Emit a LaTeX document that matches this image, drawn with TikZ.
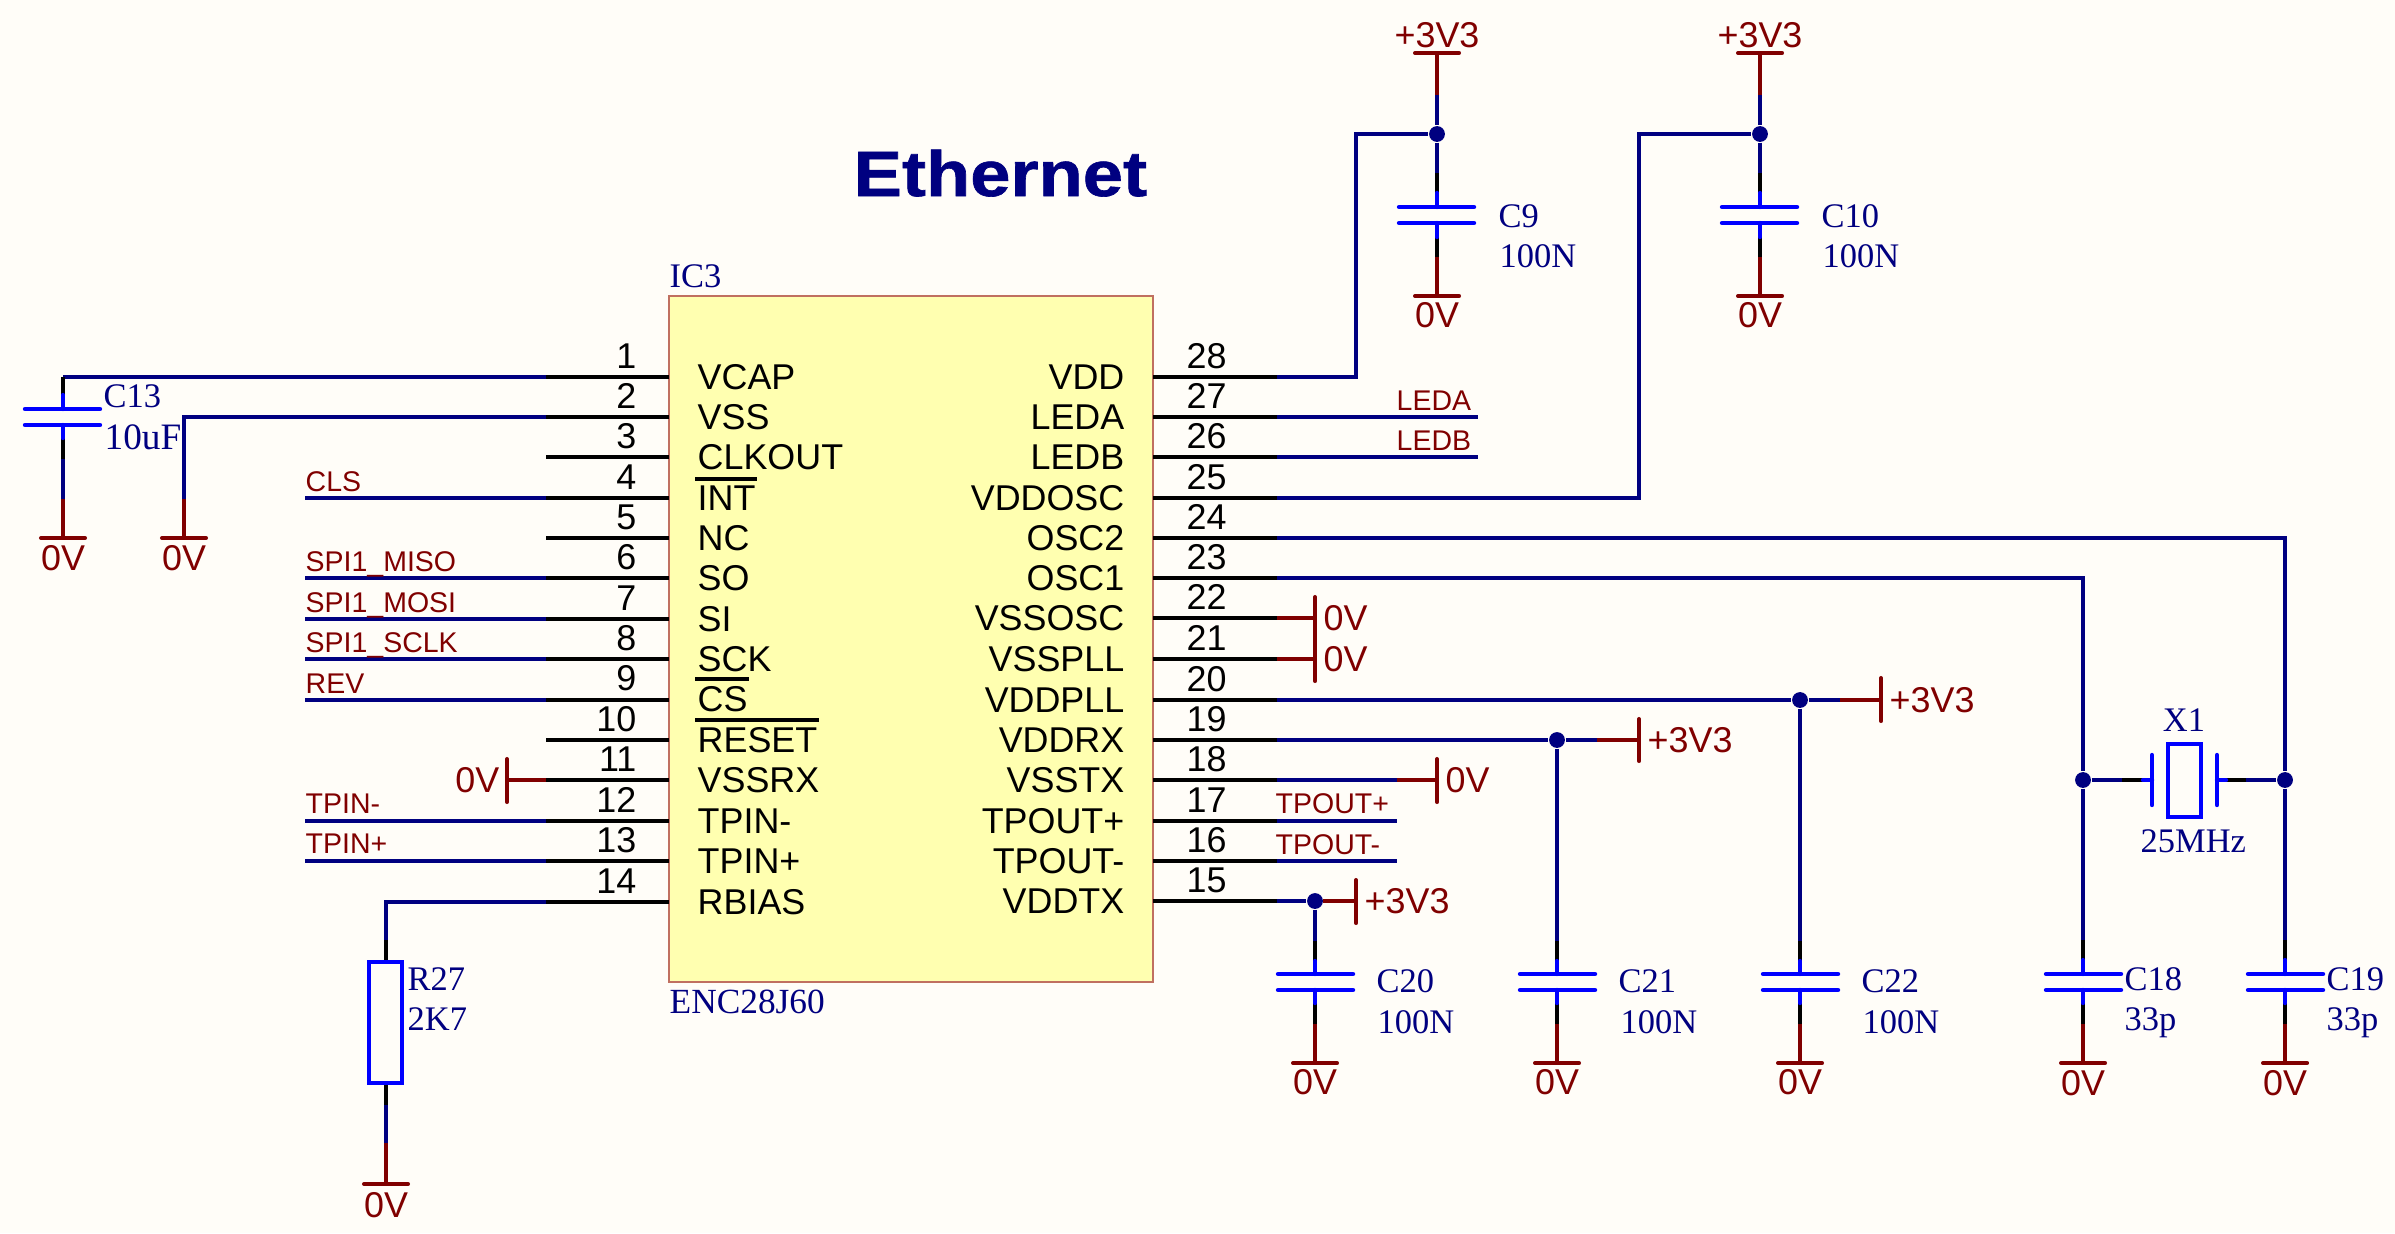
\documentclass[tikz,border=0pt]{standalone}
\usepackage{xcolor}
\usepackage{fontspec}
\usepackage{tikz}
\setmainfont{Liberation Sans}
\newfontfamily\serfont{Liberation Serif}
\newfontfamily\headfont[FakeStretch=1.13,FakeBold=1]{Liberation Sans}
\definecolor{bgcol}{HTML}{FFFDF8}
\definecolor{wirecol}{HTML}{000080}
\definecolor{pwrcol}{HTML}{800000}
\definecolor{partcol}{HTML}{0000FF}
\definecolor{icfill}{HTML}{FFFFB0}
\definecolor{icline}{HTML}{C07060}
\tikzset{
    wire/.style={draw=wirecol,line width=1.1pt},
    pinline/.style={draw=black,line width=1.15pt},
    pwrline/.style={draw=pwrcol,line width=1.1pt},
    pwrbar/.style={draw=pwrcol,line width=1.15pt,line cap=round},
    partline/.style={draw=partcol,line width=1.25pt,line cap=round},
    overbar/.style={draw=black,line width=1.1pt},
    junction/.style={circle,fill=wirecol,inner sep=0pt,minimum size=4.5pt},
    pinname/.style={inner sep=0pt,font=\fontsize{10.2}{12}\selectfont},
    pinnum/.style={inner sep=0pt,font=\fontsize{10.2}{12}\selectfont},
    netname/.style={inner sep=0pt,text=pwrcol,anchor=base west,font=\fontsize{8.1}{10}\selectfont},
    pwrname/.style={inner sep=0pt,text=pwrcol,font=\fontsize{10.2}{12}\selectfont},
    partname/.style={inner sep=0pt,text=wirecol,anchor=base west,font=\fontsize{9.8}{12}\serfont},
}
\begin{document}
\begin{tikzpicture}[x=0.01cm,y=-0.01cm]
        \fill[bgcol] (0,0) rectangle (2395,1233);
        \node[inner sep=0pt,text=wirecol,anchor=base west,font=\fontsize{18.2}{22}\headfont\bfseries] (title) at (853,196) {Ethernet};
        \draw[draw=icline,fill=icfill,line width=0.6pt] (669,296) rectangle (1153,982);
        \node[partname] (ic3) at (669,287) {IC3};
        \node[partname,font=\fontsize{10.05}{12}\serfont] (enc) at (669,1013) {ENC28J60};

        \node[pinnum,anchor=base east] (num1) at (637,368) {1};
        \node[pinnum,anchor=base east] (num2) at (637,408) {2};
        \node[pinnum,anchor=base east] (num3) at (637,448) {3};
        \node[pinnum,anchor=base east] (num4) at (637,489) {4};
        \node[pinnum,anchor=base east] (num5) at (637,529) {5};
        \node[pinnum,anchor=base east] (num6) at (637,569) {6};
        \node[pinnum,anchor=base east] (num7) at (637,610) {7};
        \node[pinnum,anchor=base east] (num8) at (637,650) {8};
        \node[pinnum,anchor=base east] (num9) at (637,690) {9};
        \node[pinnum,anchor=base east] (num10) at (637,731) {10};
        \node[pinnum,anchor=base east] (num11) at (637,771) {11};
        \node[pinnum,anchor=base east] (num12) at (637,812) {12};
        \node[pinnum,anchor=base east] (num13) at (637,852) {13};
        \node[pinnum,anchor=base east] (num14) at (637,893) {14};
        \node[pinnum,anchor=base west] (num28) at (1186,368) {28};
        \node[pinnum,anchor=base west] (num27) at (1186,408) {27};
        \node[pinnum,anchor=base west] (num26) at (1186,448) {26};
        \node[pinnum,anchor=base west] (num25) at (1186,489) {25};
        \node[pinnum,anchor=base west] (num24) at (1186,529) {24};
        \node[pinnum,anchor=base west] (num23) at (1186,569) {23};
        \node[pinnum,anchor=base west] (num22) at (1186,609) {22};
        \node[pinnum,anchor=base west] (num21) at (1186,650) {21};
        \node[pinnum,anchor=base west] (num20) at (1186,691) {20};
        \node[pinnum,anchor=base west] (num19) at (1186,731) {19};
        \node[pinnum,anchor=base west] (num18) at (1186,771) {18};
        \node[pinnum,anchor=base west] (num17) at (1186,812) {17};
        \node[pinnum,anchor=base west] (num16) at (1186,852) {16};
        \node[pinnum,anchor=base west] (num15) at (1186,892) {15};

        \node[pinname,anchor=base west] (name1) at (697,389) {VCAP};
        \node[pinname,anchor=base west] (name2) at (697,429) {VSS};
        \node[pinname,anchor=base west] (name3) at (697,469) {CLKOUT};
        \node[pinname,anchor=base west] (name4) at (697,510) {INT};
        \node[pinname,anchor=base west] (name5) at (697,550) {NC};
        \node[pinname,anchor=base west] (name6) at (697,590) {SO};
        \node[pinname,anchor=base west] (name7) at (697,631) {SI};
        \node[pinname,anchor=base west] (name8) at (697,671) {SCK};
        \node[pinname,anchor=base west] (name9) at (697,711) {CS};
        \node[pinname,anchor=base west] (name10) at (697,752) {RESET};
        \node[pinname,anchor=base west] (name11) at (697,792) {VSSRX};
        \node[pinname,anchor=base west] (name12) at (697,833) {TPIN-};
        \node[pinname,anchor=base west] (name13) at (697,873) {TPIN+};
        \node[pinname,anchor=base west] (name14) at (697,914) {RBIAS};
        \node[pinname,anchor=base east] (name28) at (1125,389) {VDD};
        \node[pinname,anchor=base east] (name27) at (1125,429) {LEDA};
        \node[pinname,anchor=base east] (name26) at (1125,469) {LEDB};
        \node[pinname,anchor=base east] (name25) at (1125,510) {VDDOSC};
        \node[pinname,anchor=base east] (name24) at (1125,550) {OSC2};
        \node[pinname,anchor=base east] (name23) at (1125,590) {OSC1};
        \node[pinname,anchor=base east] (name22) at (1125,630) {VSSOSC};
        \node[pinname,anchor=base east] (name21) at (1125,671) {VSSPLL};
        \node[pinname,anchor=base east] (name20) at (1125,712) {VDDPLL};
        \node[pinname,anchor=base east] (name19) at (1125,752) {VDDRX};
        \node[pinname,anchor=base east] (name18) at (1125,792) {VSSTX};
        \node[pinname,anchor=base east] (name17) at (1125,833) {TPOUT+};
        \node[pinname,anchor=base east] (name16) at (1125,873) {TPOUT-};
        \node[pinname,anchor=base east] (name15) at (1125,913) {VDDTX};
        \draw[overbar] ([shift={(-2,-6)}]name4.north west) -- ([shift={(1,-6)}]name4.north east);
        \draw[overbar] ([shift={(-2,-6)}]name9.north west) -- ([shift={(1,-6)}]name9.north east);
        \draw[overbar] ([shift={(-2,-6)}]name10.north west) -- ([shift={(1,-6)}]name10.north east);

        \coordinate (a1) at (669,377); \coordinate (b1) at (546,377);
        \coordinate (a2) at (669,417); \coordinate (b2) at (546,417);
        \coordinate (a3) at (669,457); \coordinate (b3) at (546,457);
        \coordinate (a4) at (669,498); \coordinate (b4) at (546,498);
        \coordinate (a5) at (669,538); \coordinate (b5) at (546,538);
        \coordinate (a6) at (669,578); \coordinate (b6) at (546,578);
        \coordinate (a7) at (669,619); \coordinate (b7) at (546,619);
        \coordinate (a8) at (669,659); \coordinate (b8) at (546,659);
        \coordinate (a9) at (669,700); \coordinate (b9) at (546,700);
        \coordinate (a10) at (669,740); \coordinate (b10) at (546,740);
        \coordinate (a11) at (669,780); \coordinate (b11) at (546,780);
        \coordinate (a12) at (669,821); \coordinate (b12) at (546,821);
        \coordinate (a13) at (669,861); \coordinate (b13) at (546,861);
        \coordinate (a14) at (669,902); \coordinate (b14) at (546,902);
        \coordinate (a28) at (1153,377); \coordinate (b28) at (1277,377);
        \coordinate (a27) at (1153,417); \coordinate (b27) at (1277,417);
        \coordinate (a26) at (1153,457); \coordinate (b26) at (1277,457);
        \coordinate (a25) at (1153,498); \coordinate (b25) at (1277,498);
        \coordinate (a24) at (1153,538); \coordinate (b24) at (1277,538);
        \coordinate (a23) at (1153,578); \coordinate (b23) at (1277,578);
        \coordinate (a22) at (1153,618); \coordinate (b22) at (1277,618);
        \coordinate (a21) at (1153,659); \coordinate (b21) at (1277,659);
        \coordinate (a20) at (1153,700); \coordinate (b20) at (1277,700);
        \coordinate (a19) at (1153,740); \coordinate (b19) at (1277,740);
        \coordinate (a18) at (1153,780); \coordinate (b18) at (1277,780);
        \coordinate (a17) at (1153,821); \coordinate (b17) at (1277,821);
        \coordinate (a16) at (1153,861); \coordinate (b16) at (1277,861);
        \coordinate (a15) at (1153,901); \coordinate (b15) at (1277,901);

        \node[junction] (jc9) at (1437,134) {};
        \node[junction] (jc10) at (1760,134) {};
        \node[junction] (j20) at (1800,700) {};
        \node[junction] (j19) at (1557,740) {};
        \node[junction] (j15) at (1315,901) {};
        \node[junction] (jx1) at (2083,780) {};
        \node[junction] (jx2) at (2285,780) {};

        \coordinate (c13t) at (63,377); \coordinate (c13b) at (63,459);
        \coordinate (c9t) at (1437,173); \coordinate (c9b) at (1437,257);
        \coordinate (c10t) at (1760,173); \coordinate (c10b) at (1760,257);
        \coordinate (c20t) at (1315,941); \coordinate (c20b) at (1315,1024);
        \coordinate (c21t) at (1557,941); \coordinate (c21b) at (1557,1024);
        \coordinate (c22t) at (1800,941); \coordinate (c22b) at (1800,1024);
        \coordinate (c18t) at (2083,940); \coordinate (c18b) at (2083,1024);
        \coordinate (c19t) at (2285,940); \coordinate (c19b) at (2285,1024);
        \coordinate (r27t) at (386,940); \coordinate (r27b) at (386,1105);
        \coordinate (x1l) at (2122,780); \coordinate (x1r) at (2246,780);
        \coordinate (k2) at (184,499);
        \coordinate (k28) at (1356,134);
        \coordinate (k25) at (1639,134);

        \coordinate (e4) at (305,498);
        \coordinate (e6) at (305,578);
        \coordinate (e7) at (305,619);
        \coordinate (e8) at (305,659);
        \coordinate (e9) at (305,700);
        \coordinate (e12) at (305,821);
        \coordinate (e13) at (305,861);
        \coordinate (e27) at (1478,417);
        \coordinate (e26) at (1478,457);
        \coordinate (e17) at (1397,821);
        \coordinate (e16) at (1397,861);

        \coordinate (p20) at (1840,700); \coordinate (pb20) at (1881,700);
        \coordinate (p19) at (1597,740); \coordinate (pb19) at (1639,740);
        \coordinate (p18) at (1397,780); \coordinate (pb18) at (1437,780);
        \coordinate (p15) at (1323,901); \coordinate (pb15) at (1356,901);
        \coordinate (pb22) at (1315,618); \coordinate (pb21) at (1315,659);
        \coordinate (pb11) at (507,780);
        \coordinate (vc9) at (1437,95); \coordinate (tc9) at (1437,53);
        \coordinate (vc10) at (1760,95); \coordinate (tc10) at (1760,53);
        \coordinate (gc13) at (63,538); \coordinate (g2) at (184,538);
        \coordinate (gc9) at (1437,296); \coordinate (gc10) at (1760,296);
        \coordinate (gc20) at (1315,1063); \coordinate (gc21) at (1557,1063);
        \coordinate (gc22) at (1800,1063); \coordinate (gc18) at (2083,1063);
        \coordinate (gc19) at (2285,1063); \coordinate (gr27) at (386,1184);
        \coordinate (vr27) at (386,1143); \coordinate (vc13) at (63,499);

        \draw[wire] (b1) -- (c13t);
        \draw[wire] (b2) -| (k2);
        \draw[wire] (b4) -- (e4);
        \draw[wire] (b6) -- (e6);
        \draw[wire] (b7) -- (e7);
        \draw[wire] (b8) -- (e8);
        \draw[wire] (b9) -- (e9);
        \draw[wire] (b12) -- (e12);
        \draw[wire] (b13) -- (e13);
        \draw[wire] (b14) -| (r27t);
        \draw[wire] (c13b) -- (vc13);
        \draw[wire] (r27b) -- (vr27);
        \draw[wire] (b27) -- (e27);
        \draw[wire] (b26) -- (e26);
        \draw[wire] (b17) -- (e17);
        \draw[wire] (b16) -- (e16);
        \draw[wire] (b18) -- (p18);
        \draw[wire] (b28) -| (k28) -- (jc9);
        \draw[wire] (b25) -| (k25) -- (jc10);
        \draw[wire] (b24) -| (jx2);
        \draw[wire] (b23) -| (jx1);
        \draw[wire] (b20) -- (j20);
        \draw[wire] (j20) -- (p20);
        \draw[wire] (b19) -- (j19);
        \draw[wire] (j19) -- (p19);
        \draw[wire] (b15) -- (j15);
        \draw[wire] (j20) -- (c22t);
        \draw[wire] (j19) -- (c21t);
        \draw[wire] (j15) -- (c20t);
        \draw[wire] (vc9) -- (jc9);
        \draw[wire] (jc9) -- (c9t);
        \draw[wire] (vc10) -- (jc10);
        \draw[wire] (jc10) -- (c10t);
        \draw[wire] (jx1) -- (c18t);
        \draw[wire] (jx2) -- (c19t);
        \draw[wire] (jx1) -- (x1l);
        \draw[wire] (jx2) -- (x1r);

        \draw[pinline] (a1) -- (b1);
        \draw[pinline] (a2) -- (b2);
        \draw[pinline] (a3) -- (b3);
        \draw[pinline] (a4) -- (b4);
        \draw[pinline] (a5) -- (b5);
        \draw[pinline] (a6) -- (b6);
        \draw[pinline] (a7) -- (b7);
        \draw[pinline] (a8) -- (b8);
        \draw[pinline] (a9) -- (b9);
        \draw[pinline] (a10) -- (b10);
        \draw[pinline] (a11) -- (b11);
        \draw[pinline] (a12) -- (b12);
        \draw[pinline] (a13) -- (b13);
        \draw[pinline] (a14) -- (b14);
        \draw[pinline] (a28) -- (b28);
        \draw[pinline] (a27) -- (b27);
        \draw[pinline] (a26) -- (b26);
        \draw[pinline] (a25) -- (b25);
        \draw[pinline] (a24) -- (b24);
        \draw[pinline] (a23) -- (b23);
        \draw[pinline] (a22) -- (b22);
        \draw[pinline] (a21) -- (b21);
        \draw[pinline] (a20) -- (b20);
        \draw[pinline] (a19) -- (b19);
        \draw[pinline] (a18) -- (b18);
        \draw[pinline] (a17) -- (b17);
        \draw[pinline] (a16) -- (b16);
        \draw[pinline] (a15) -- (b15);

        \draw[pinline] (c13t) -- ++(0,18) (c13b) -- ++(0,-21);
        \draw[pinline] (c9t) -- ++(0,20) (c9b) -- ++(0,-20);
        \draw[pinline] (c10t) -- ++(0,20) (c10b) -- ++(0,-20);
        \draw[pinline] (c20t) -- ++(0,20) (c20b) -- ++(0,-21);
        \draw[pinline] (c21t) -- ++(0,20) (c21b) -- ++(0,-21);
        \draw[pinline] (c22t) -- ++(0,20) (c22b) -- ++(0,-21);
        \draw[pinline] (c18t) -- ++(0,20) (c18b) -- ++(0,-21);
        \draw[pinline] (c19t) -- ++(0,20) (c19b) -- ++(0,-21);
        \draw[pinline] (r27t) -- ++(0,22) (r27b) -- ++(0,-22);
        \draw[pinline] (x1l) -- ++(21,0) (x1r) -- ++(-20,0);

        \draw[partline] (63,395) -- (63,409) (25,409) -- (100,409) (25,425) -- (100,425) (63,425) -- (63,438);
        \draw[partline] (1437,193) -- (1437,207) (1399,207) -- (1474,207) (1399,223) -- (1474,223) (1437,223) -- (1437,237);
        \draw[partline] (1760,193) -- (1760,207) (1722,207) -- (1797,207) (1722,223) -- (1797,223) (1760,223) -- (1760,237);
        \draw[partline] (1315,961) -- (1315,974) (1278,974) -- (1353,974) (1278,990) -- (1353,990) (1315,990) -- (1315,1003);
        \draw[partline] (1557,961) -- (1557,974) (1520,974) -- (1595,974) (1520,990) -- (1595,990) (1557,990) -- (1557,1003);
        \draw[partline] (1800,961) -- (1800,974) (1763,974) -- (1838,974) (1763,990) -- (1838,990) (1800,990) -- (1800,1003);
        \draw[partline] (2083,960) -- (2083,974) (2046,974) -- (2121,974) (2046,990) -- (2121,990) (2083,990) -- (2083,1003);
        \draw[partline] (2285,960) -- (2285,974) (2248,974) -- (2323,974) (2248,990) -- (2323,990) (2285,990) -- (2285,1003);
        \draw[partline] (369,962) rectangle (402,1083);
        \draw[partline] (2143,780) -- (2152,780) (2152,755) -- (2152,805);
        \draw[partline] (2168,744) rectangle (2201,817);
        \draw[partline] (2226,780) -- (2217,780) (2217,755) -- (2217,805);

        \draw[pwrline] (vc13) -- (gc13);
        \draw[pwrline] (k2) -- (g2);
        \draw[pwrline] (vr27) -- (gr27);
        \draw[pwrline] (c9b) -- (gc9);
        \draw[pwrline] (c10b) -- (gc10);
        \draw[pwrline] (c20b) -- (gc20);
        \draw[pwrline] (c21b) -- (gc21);
        \draw[pwrline] (c22b) -- (gc22);
        \draw[pwrline] (c18b) -- (gc18);
        \draw[pwrline] (c19b) -- (gc19);
        \draw[pwrline] (vc9) -- (tc9);
        \draw[pwrline] (vc10) -- (tc10);
        \draw[pwrline] (b11) -- (pb11);
        \draw[pwrline] (b22) -- (pb22);
        \draw[pwrline] (b21) -- (pb21);
        \draw[pwrline] (p20) -- (pb20);
        \draw[pwrline] (p19) -- (pb19);
        \draw[pwrline] (p18) -- (pb18);
        \draw[pwrline] (p15) -- (pb15);

        \draw[pwrbar] (41,538) -- (85,538);
        \draw[pwrbar] (162,538) -- (206,538);
        \draw[pwrbar] (364,1184) -- (408,1184);
        \draw[pwrbar] (1415,296) -- (1459,296);
        \draw[pwrbar] (1738,296) -- (1782,296);
        \draw[pwrbar] (1415,53) -- (1459,53);
        \draw[pwrbar] (1738,53) -- (1782,53);
        \draw[pwrbar] (1293,1063) -- (1337,1063);
        \draw[pwrbar] (1535,1063) -- (1579,1063);
        \draw[pwrbar] (1778,1063) -- (1822,1063);
        \draw[pwrbar] (2061,1063) -- (2105,1063);
        \draw[pwrbar] (2263,1063) -- (2307,1063);
        \draw[pwrbar] (507,759) -- (507,802);
        \draw[pwrbar] (1315,597) -- (1315,681);
        \draw[pwrbar] (1881,678) -- (1881,721);
        \draw[pwrbar] (1639,719) -- (1639,761);
        \draw[pwrbar] (1437,759) -- (1437,802);
        \draw[pwrbar] (1356,880) -- (1356,923);

        \node[netname] (cls) at (305,491) {CLS};
        \node[netname] (miso) at (305,571) {SPI1\_MISO};
        \node[netname] (mosi) at (305,612) {SPI1\_MOSI};
        \node[netname] (sclk) at (305,652) {SPI1\_SCLK};
        \node[netname] (rev) at (305,693) {REV};
        \node[netname] (tpinm) at (305,813) {TPIN-};
        \node[netname] (tpinp) at (305,853) {TPIN+};
        \node[netname] (leda) at (1396,410) {LEDA};
        \node[netname] (ledb) at (1396,450) {LEDB};
        \node[netname] (tpoutp) at (1275,813) {TPOUT+};
        \node[netname] (tpoutm) at (1275,854) {TPOUT-};

        \node[pwrname] (v3a) at (1437,35) {+3V3};
        \node[pwrname] (v3b) at (1760,35) {+3V3};
        \node[pwrname,anchor=west] (v3c) at (1889,700) {+3V3};
        \node[pwrname,anchor=west] (v3d) at (1647,740) {+3V3};
        \node[pwrname,anchor=west] (v3e) at (1364,901) {+3V3};
        \node[pwrname] (gnd13) at (63,558) {0V};
        \node[pwrname] (gnd2) at (184,558) {0V};
        \node[pwrname] (gndr) at (386,1205) {0V};
        \node[pwrname] (gnd9) at (1437,315) {0V};
        \node[pwrname] (gnd10) at (1760,315) {0V};
        \node[pwrname] (gnd20) at (1315,1082) {0V};
        \node[pwrname] (gnd21) at (1557,1082) {0V};
        \node[pwrname] (gnd22) at (1800,1082) {0V};
        \node[pwrname] (gnd18) at (2083,1083) {0V};
        \node[pwrname] (gnd19) at (2285,1083) {0V};
        \node[pwrname,anchor=east] (gnd11) at (500,780) {0V};
        \node[pwrname,anchor=west] (gnd22b) at (1323,618) {0V};
        \node[pwrname,anchor=west] (gnd21b) at (1323,659) {0V};
        \node[pwrname,anchor=west] (gnd18b) at (1445,780) {0V};

        \node[partname] (c13) at (103,407) {C13};
        \node[partname,font=\fontsize{10.6}{12}\serfont] (c13v) at (104,449) {10uF};
        \node[partname] (c9) at (1498,227) {C9};
        \node[partname] (c9v) at (1499,267) {100N};
        \node[partname] (c10) at (1821,227) {C10};
        \node[partname] (c10v) at (1822,267) {100N};
        \node[partname] (c20) at (1376,992) {C20};
        \node[partname] (c20v) at (1377,1033) {100N};
        \node[partname] (c21) at (1618,992) {C21};
        \node[partname] (c21v) at (1620,1033) {100N};
        \node[partname] (c22) at (1861,992) {C22};
        \node[partname] (c22v) at (1862,1033) {100N};
        \node[partname] (c18) at (2124,990) {C18};
        \node[partname] (c18v) at (2124,1030) {33p};
        \node[partname] (c19) at (2326,990) {C19};
        \node[partname] (c19v) at (2326,1030) {33p};
        \node[partname] (r27) at (407,990) {R27};
        \node[partname] (r27v) at (407,1030) {2K7};
        \node[partname,anchor=base] (x1) at (2184,731) {X1};
        \node[partname] (x1v) at (2140,852) {25MHz};
\end{tikzpicture}
\end{document}
